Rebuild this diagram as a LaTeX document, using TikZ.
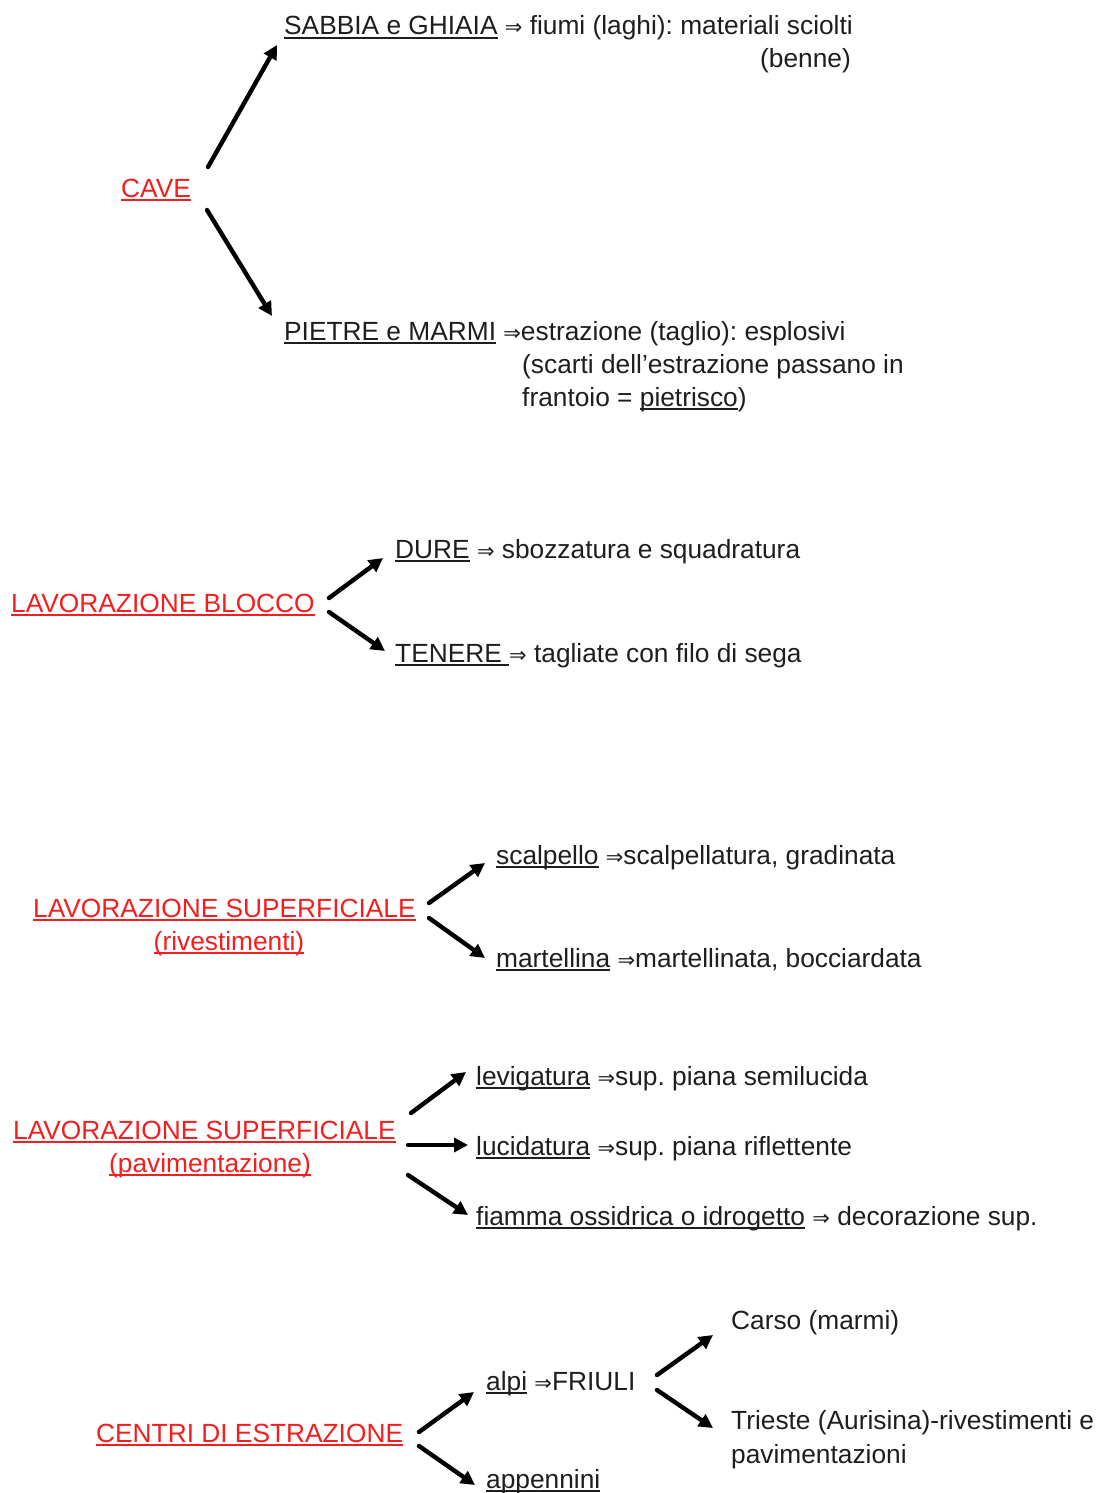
\documentclass[tikz,border=0pt]{standalone}
\usepackage{fontspec}
\setmainfont{Liberation Sans}
\newfontfamily\symf{DejaVu Sans}
\usetikzlibrary{arrows.meta}
\definecolor{myred}{RGB}{245,30,30}
\definecolor{ink}{RGB}{30,30,30}
\newcommand\uln[1]{\setbox0\hbox{#1}\rlap{\rule[-4.2pt]{\wd0}{1.8pt}}\box0\relax}
\newcommand\imp{{\symf\fontsize{21}{21}\selectfont ⇒}}
\frenchspacing
\begin{document}
\begin{tikzpicture}[x=1pt,y=-1pt,
  txt/.style={anchor=base west,inner sep=0pt,text=ink,font=\fontsize{26.3}{33}\selectfont\frenchspacing},
  redtxt/.style={text=myred},
  arr/.style={draw=black,line width=4.4pt,line cap=round,-{Triangle[length=14pt,width=14pt]}}]
\useasboundingbox[fill=white] (0,0) rectangle (1100,1493);
% CAVE
\node[txt] (sabbia) at (284,35) {\uln{SABBIA e GHIAIA} \imp{} fiumi (laghi): materiali sciolti};
\node[txt,anchor=base east] (benne) at (851,68) {(benne)};
\node[txt,redtxt] (cave) at (121,197) {\uln{CAVE}};
\node[txt] (pietre) at (284,340) {\uln{PIETRE e MARMI} \imp estrazione (taglio): esplosivi};
\node[txt] (scarti) at (522,373) {(scarti dell'estrazione passano in};
\node[txt] (frantoio) at (522,406) {frantoio = \uln{pietrisco})};
\coordinate (a1s) at (208,167); \coordinate (a1e) at (277,45);
\coordinate (a2s) at (207,210); \coordinate (a2e) at (272,316);
\draw[arr] (a1s) -- (a1e);
\draw[arr] (a2s) -- (a2e);
% BLOCCO
\node[txt,redtxt] (blocco) at (11,612) {\uln{LAVORAZIONE BLOCCO}};
\node[txt] (dure) at (395,558) {\uln{DURE} \imp{} sbozzatura e squadratura};
\node[txt] (tenere) at (395,662) {\uln{TENERE\ }\imp{} tagliate con filo di sega};
\coordinate (b1s) at (329,598); \coordinate (b1e) at (383,558);
\coordinate (b2s) at (329,612); \coordinate (b2e) at (385,651);
\draw[arr] (b1s) -- (b1e);
\draw[arr] (b2s) -- (b2e);
% SUPERFICIALE rivestimenti
\node[txt,redtxt] (sup1) at (33,917) {\uln{LAVORAZIONE SUPERFICIALE}};
\node[txt,redtxt,anchor=base] (riv) at (229,950) {\uln{(rivestimenti)}};
\node[txt] (scalp) at (496,864) {\uln{scalpello} \imp scalpellatura, gradinata};
\node[txt] (mart) at (496,967) {\uln{martellina} \imp martellinata, bocciardata};
\coordinate (c1s) at (429,903); \coordinate (c1e) at (485,863);
\coordinate (c2s) at (429,918); \coordinate (c2e) at (485,958);
\draw[arr] (c1s) -- (c1e);
\draw[arr] (c2s) -- (c2e);
% SUPERFICIALE pavimentazione
\node[txt,redtxt] (sup2) at (13,1139) {\uln{LAVORAZIONE SUPERFICIALE}};
\node[txt,redtxt,anchor=base] (pav) at (210,1172) {\uln{(pavimentazione)}};
\node[txt] (lev) at (476,1085) {\uln{levigatura} \imp sup. piana semilucida};
\node[txt] (luc) at (476,1155) {\uln{lucidatura} \imp sup. piana riflettente};
\node[txt] (fiam) at (476,1225) {\uln{fiamma ossidrica o idrogetto} \imp{} decorazione sup.};
\coordinate (d1s) at (411,1113); \coordinate (d1e) at (466,1072);
\coordinate (d2s) at (408,1145); \coordinate (d2e) at (468,1145);
\coordinate (d3s) at (408,1175); \coordinate (d3e) at (468,1215);
\draw[arr] (d1s) -- (d1e);
\draw[arr] (d2s) -- (d2e);
\draw[arr] (d3s) -- (d3e);
% CENTRI
\node[txt,redtxt] (centri) at (96,1442) {\uln{CENTRI DI ESTRAZIONE}};
\node[txt] (alpi) at (486,1390) {\uln{alpi} \imp FRIULI};
\node[txt] (app) at (486,1488) {\uln{appennini}};
\node[txt] (carso) at (731,1329) {Carso (marmi)};
\node[txt] (trieste) at (731,1429) {Trieste (Aurisina)-rivestimenti e};
\node[txt] (pavim) at (731,1463) {pavimentazioni};
\coordinate (e1s) at (419,1432); \coordinate (e1e) at (474,1392);
\coordinate (e2s) at (419,1446); \coordinate (e2e) at (475,1485);
\coordinate (f1s) at (657,1375); \coordinate (f1e) at (713,1335);
\coordinate (f2s) at (657,1390); \coordinate (f2e) at (713,1428);
\draw[arr] (e1s) -- (e1e);
\draw[arr] (e2s) -- (e2e);
\draw[arr] (f1s) -- (f1e);
\draw[arr] (f2s) -- (f2e);
\end{tikzpicture}
\end{document}
